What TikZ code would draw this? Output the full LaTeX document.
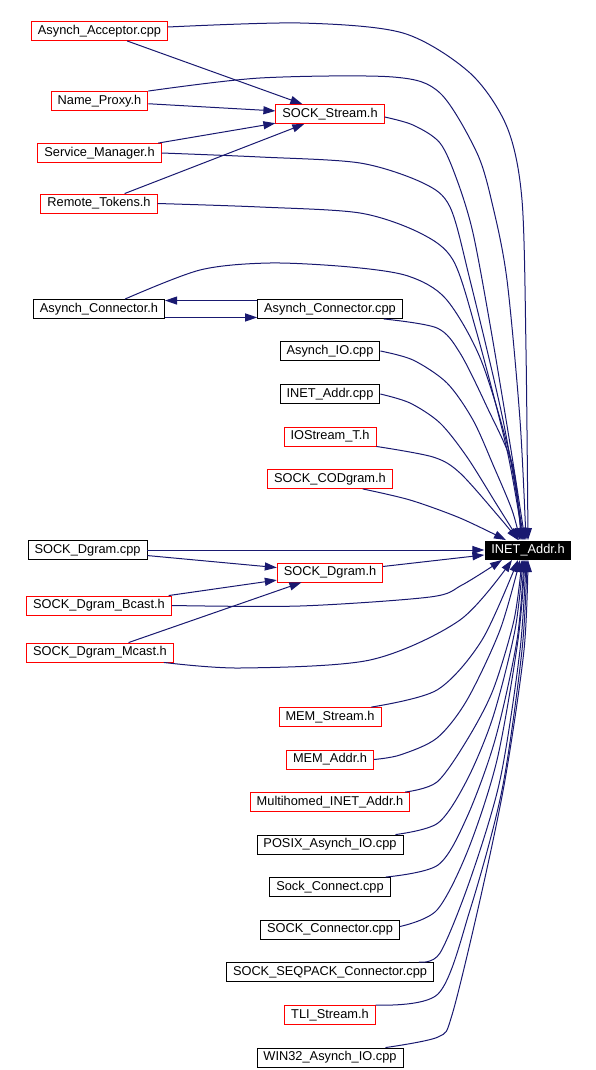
\documentclass[tikz,border=0pt]{standalone}
\usepackage{fontspec}
\setmainfont{Liberation Sans}
\usetikzlibrary{arrows.meta}
\definecolor{edgeblue}{RGB}{25,25,112}

\begin{document}
\begin{tikzpicture}[
    x=1pt, y=-1pt,
    every node/.style={rectangle, line width=0.9pt, font=\fontsize{12.8}{15}\selectfont,
        inner xsep=6.5pt, inner ysep=0pt, minimum height=19pt, text height=9.3pt, text depth=2.7pt},
    redbox/.style={draw=red},
    blackbox/.style={draw=black},
    current/.style={fill=black, text=white},
    dep/.style={edgeblue, line width=1pt, -{Triangle[length=12pt,width=8pt]}}
]
\useasboundingbox (0,0) rectangle (596,1070);

\node[redbox] (aacpp) at (99.5,31) {Asynch\_Acceptor.cpp};
\node[redbox] (nproxy) at (99.5,101) {Name\_Proxy.h};
\node[redbox] (sstream) at (330,114) {SOCK\_Stream.h};
\node[redbox] (smgr) at (99.5,153) {Service\_Manager.h};
\node[redbox] (rtokens) at (99,203.5) {Remote\_Tokens.h};

\node[blackbox] (acnh) at (99,309) {Asynch\_Connector.h};
\node[blackbox] (accpp) at (330,309) {Asynch\_Connector.cpp};
\node[blackbox] (aiocpp) at (330,351) {Asynch\_IO.cpp};
\node[blackbox] (inetcpp) at (330,394) {INET\_Addr.cpp};
\node[redbox] (iostrt) at (330,436.5) {IOStream\_T.h};
\node[redbox] (scod) at (330,479) {SOCK\_CODgram.h};

\node[current] (inet) at (528,550) {INET\_Addr.h};
\node[blackbox] (sdgcpp) at (87.5,550) {SOCK\_Dgram.cpp};
\node[redbox] (sdgh) at (330,572.5) {SOCK\_Dgram.h};
\node[redbox] (sdgbc) at (99,605.5) {SOCK\_Dgram\_Bcast.h};
\node[redbox] (sdgmc) at (100,652.5) {SOCK\_Dgram\_Mcast.h};

\node[redbox] (memst) at (330,717) {MEM\_Stream.h};
\node[redbox] (memad) at (330,759.5) {MEM\_Addr.h};
\node[redbox] (mhinet) at (330,802) {Multihomed\_INET\_Addr.h};
\node[blackbox] (posix) at (330,844.5) {POSIX\_Asynch\_IO.cpp};
\node[blackbox] (sconn) at (330,887) {Sock\_Connect.cpp};
\node[blackbox] (sconncpp) at (330,929.5) {SOCK\_Connector.cpp};
\node[blackbox] (seqpack) at (330,972) {SOCK\_SEQPACK\_Connector.cpp};
\node[redbox] (tli) at (330,1015) {TLI\_Stream.h};
\node[blackbox] (win32) at (330,1057.5) {WIN32\_Asynch\_IO.cpp};

% into SOCK_Stream.h
\draw[dep] (aacpp) -- (sstream);
\draw[dep] (nproxy) -- (sstream);
\draw[dep] (smgr) -- (sstream);
\draw[dep] (rtokens) -- (sstream);

% Asynch_Connector pair
\draw[dep] ([yshift=-1.5pt]accpp.north west) -- ([yshift=-1.5pt]acnh.north east);
\draw[dep] ([yshift=1.5pt]acnh.south east) -- ([yshift=1.5pt]accpp.south west);

% upper files into INET_Addr.h
\draw[dep] plot[smooth] coordinates {([yshift=4pt]aacpp.east) (300,23) (403,33) (470,73) (507,127) (522,200) (526,350) (inet.north)};
\draw[dep] plot[smooth] coordinates {(nproxy.north east) (260,78) (393,77) (440,93) (477,153) (493,207) (507,280) (520,420) ([xshift=-2pt]inet.north)};
\draw[dep] plot[smooth] coordinates {(smgr.east) (260,157) (360,163) (423,183) (450,207) (470,280) (503,420) ([xshift=-4pt]inet.north)};
\draw[dep] plot[smooth] coordinates {(rtokens.east) (260,207) (360,213) (420,233) (453,260) (476,330) (507,450) ([xshift=-5pt]inet.north)};
\draw[dep] plot[smooth] coordinates {([yshift=-3pt]sstream.east) (413,125) (440,143) (457,180) (473,233) (491,330) (511,450) ([xshift=-3pt]inet.north)};
\draw[dep] plot[smooth] coordinates {([xshift=26pt]acnh.north) (200,270) (270,263) (350,267) (408,276) (446,299) (481,360) (511,460) ([xshift=-6pt]inet.north)};
\draw[dep] plot[smooth] coordinates {([xshift=-19pt]accpp.south east) (437,328) (460,353) (487,407) (513,467) ([xshift=-7pt]inet.north)};
\draw[dep] plot[smooth] coordinates {(aiocpp.east) (413,360) (447,383) (473,420) (494,467) (512,510) ([xshift=-8pt]inet.north)};
\draw[dep] plot[smooth] coordinates {(inetcpp.east) (410,403) (440,423) (467,457) (497,505) ([xshift=-9pt]inet.north)};
\draw[dep] plot[smooth] coordinates {(iostrt.south east) (433,457) (460,473) (500,518) ([xshift=-10pt]inet.north)};
\draw[dep] plot[smooth] coordinates {([xshift=-30pt]scod.south east) (410,500) (460,518) ([xshift=-22pt]inet.north)};

% SOCK_Dgram group
\draw[dep] (sdgcpp) -- (inet);
\draw[dep] (sdgcpp) -- (sdgh);
\draw[dep] (sdgh) -- (inet);
\draw[dep] (sdgbc) -- (sdgh);
\draw[dep] (sdgmc) -- (sdgh);
\draw[dep] plot[smooth] coordinates {(sdgbc.east) (300,606) (430,597) (462,585) ([xshift=-26pt]inet.south)};
\draw[dep] plot[smooth] coordinates {([xshift=-10pt]sdgmc.south east) (240,668) (370,660) (460,620) ([xshift=-16pt]inet.south)};

% lower files into INET_Addr.h
\draw[dep] plot[smooth] coordinates {([xshift=-10pt]memst.north east) (437,690) (482,640) ([xshift=-10pt]inet.south)};
\draw[dep] plot[smooth] coordinates {(memad.east) (400,755) (437,738) (467,700) (500,630) ([xshift=-8pt]inet.south)};
\draw[dep] plot[smooth] coordinates {([xshift=-5pt]mhinet.north east) (437,782) (467,740) (493,690) (514,620) ([xshift=-6pt]inet.south)};
\draw[dep] plot[smooth] coordinates {([xshift=-8pt]posix.north east) (438,823) (467,780) (493,717) (515,630) ([xshift=-5pt]inet.south)};
\draw[dep] plot[smooth] coordinates {([xshift=-5pt]sconn.north east) (438,865) (467,817) (495,740) (517,640) ([xshift=-4pt]inet.south)};
\draw[dep] plot[smooth] coordinates {([yshift=3pt]sconncpp.east) (437,910) (468,850) (497,760) (518,640) ([xshift=-3pt]inet.south)};
\draw[dep] plot[smooth] coordinates {([xshift=-15pt]seqpack.north east) (440,953) (470,880) (500,780) (520,650) ([xshift=-2pt]inet.south)};
\draw[dep] plot[smooth] coordinates {(tli.north east) (438,994) (470,910) (502,790) (522,650) ([xshift=-1pt]inet.south)};
\draw[dep] plot[smooth] coordinates {([xshift=-18pt]win32.north east) (438,1037) (452,1015) (480,900) (505,780) (524,650) (inet.south)};

\end{tikzpicture}
\end{document}
